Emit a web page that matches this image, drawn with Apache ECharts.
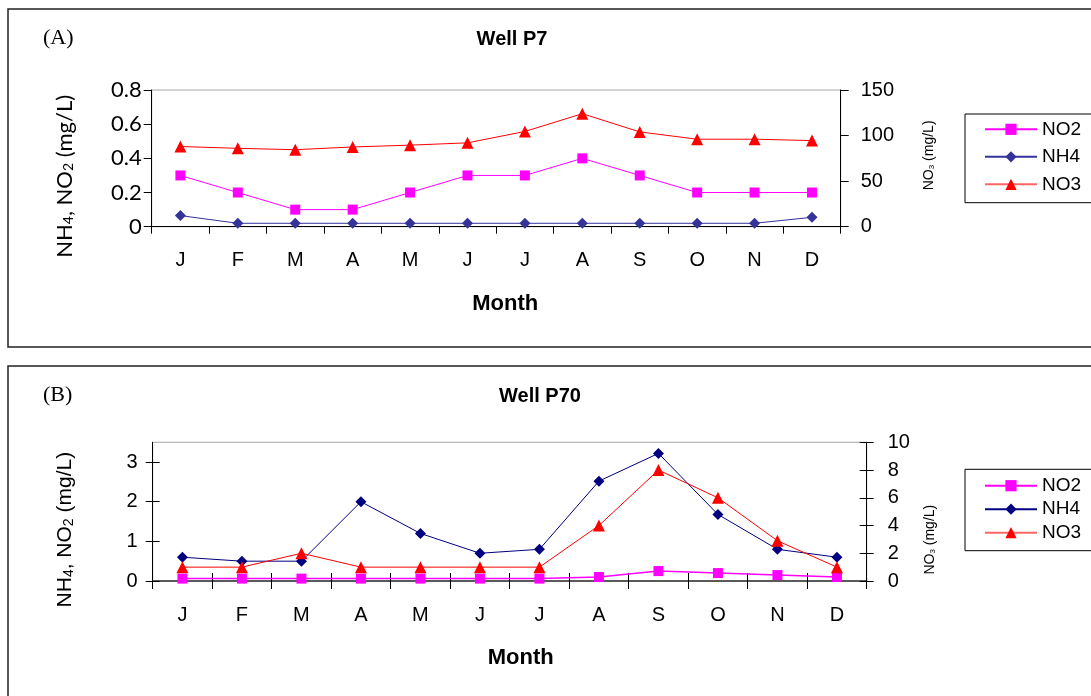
<!DOCTYPE html>
<html>
<head>
<meta charset="utf-8">
<script src="https://cdn.jsdelivr.net/npm/echarts@6/dist/echarts.min.js"></script>
<style>
html,body{margin:0;padding:0;background:#fff;}
#chart{width:1091px;height:696px;}
</style>
</head>
<body>
<div id="chart"></div>
<script>
// ---- data ----
const months = ['J','F','M','A','M','J','J','A','S','O','N','D'];
const seriesNames = ['NO2','NH4','NO3'];
// Well P7
const p7NO2 = [0.3,0.2,0.1,0.1,0.2,0.3,0.3,0.4,0.3,0.2,0.2,0.2];
const p7NH4 = [0.065,0.02,0.02,0.02,0.02,0.02,0.02,0.02,0.02,0.02,0.02,0.055];
const p7NO3 = [88,86,84.5,87.5,89.5,92,104.5,124,104,96,96,94.5];
// Well P70
const p70NO2 = [0.06,0.06,0.06,0.06,0.06,0.06,0.06,0.1,0.25,0.2,0.15,0.1];
const p70NH4 = [0.6,0.5,0.5,2.0,1.2,0.7,0.8,2.52,3.22,1.68,0.8,0.6];
const p70NO3 = [1,1,2,1,1,1,1,4,8,6,2.9,1];
// tick values
const p70LeftTicks = [0,1,2,3];

const AR = 'Liberation Sans, Arial, sans-serif';
const CAL = 'Lato, Open Sans, sans-serif';
const chart = echarts.init(document.getElementById('chart'));

function leftName(fs, ss, fam){
  return {
    name: '{a|NH}{s|4}{a|, NO}{s|2}{a| (mg/L)}',
    nameTextStyle: {
      padding: [0, 36, 0, 0],
      rich: {
        a: {fontSize: fs, fontFamily: fam, color: '#000', lineHeight: fs + 6, verticalAlign: 'bottom'},
        s: {fontSize: ss, fontFamily: fam, color: '#000', lineHeight: ss, verticalAlign: 'bottom'}
      }
    }
  };
}
function rightName(pad){
  return {
    name: '{a|NO}{s|3}{a| (mg/L)}',
    nameTextStyle: {
      padding: pad,
      rich: {
        a: {fontSize: 14, fontFamily: AR, color: '#000', lineHeight: 18, verticalAlign: 'bottom'},
        s: {fontSize: 8, fontFamily: AR, color: '#000', lineHeight: 8, verticalAlign: 'bottom'}
      }
    }
  };
}

const axisLineBlack = {show: true, lineStyle: {color: '#000', width: 1}};
const LFS = 19;

const option = {
  animation: false,
  backgroundColor: '#fff',
  graphic: [
    {type: 'rect', shape: {x: 8, y: 9, width: 1100, height: 338}, style: {fill: 'none', stroke: '#222', lineWidth: 1.5}, silent: true},
    {type: 'rect', shape: {x: 8, y: 366, width: 1100, height: 340}, style: {fill: 'none', stroke: '#222', lineWidth: 1.5}, silent: true}
  ],
  title: [
    {text: 'Well P7', left: 507, top: 24, textAlign: 'center', textStyle: {fontFamily: AR, fontWeight: 'bold', fontSize: 20, color: '#000'}},
    {text: 'Well P70', left: 535, top: 381, textAlign: 'center', textStyle: {fontFamily: AR, fontWeight: 'bold', fontSize: 20, color: '#000'}},
    {text: '(A)', left: 38, top: 22, textStyle: {fontFamily: 'Liberation Serif, Times New Roman, serif', fontWeight: 'normal', fontSize: 22, color: '#000'}},
    {text: '(B)', left: 38, top: 379, textStyle: {fontFamily: 'Liberation Serif, Times New Roman, serif', fontWeight: 'normal', fontSize: 22, color: '#000'}}
  ],
  legend: [
    {
      left: 965, top: 114, orient: 'vertical', itemWidth: 52, itemHeight: 14, itemGap: 27.5 - LFS,
      padding: [5.8, 40, 8.9, 19], borderColor: '#000', borderWidth: 1, selectedMode: false,
      textStyle: {fontFamily: AR, fontSize: LFS, color: '#000'},
      data: [
        {name: 'NO2', itemStyle: {color: '#FF00FF'}, lineStyle: {color: '#FF00FF'}},
        {name: 'NH4', itemStyle: {color: '#333399'}, lineStyle: {color: '#333399'}},
        {name: 'NO3', itemStyle: {color: '#FF0000'}, lineStyle: {color: '#FF6666'}}
      ]
    },
    {
      left: 965, top: 469.3, orient: 'vertical', itemWidth: 52, itemHeight: 14, itemGap: 23.5 - LFS,
      padding: [6.9, 40, 8.5, 19], borderColor: '#000', borderWidth: 1, selectedMode: false,
      textStyle: {fontFamily: AR, fontSize: LFS, color: '#000'},
      data: [
        {name: 'NO2', itemStyle: {color: '#FF00FF'}, lineStyle: {color: '#FF00FF'}},
        {name: 'NH4', itemStyle: {color: '#000080'}, lineStyle: {color: '#000080'}},
        {name: 'NO3', itemStyle: {color: '#FF0000'}, lineStyle: {color: '#FF6666'}}
      ]
    }
  ],
  grid: [
    {left: 151.7, right: 250.3, top: 90, height: 136.7, show: true, borderColor: '#a6a6a6', borderWidth: 1, backgroundColor: 'transparent'},
    {left: 152.7, right: 224.3, top: 442.3, height: 138.7, show: true, borderColor: '#a6a6a6', borderWidth: 1, backgroundColor: 'transparent'}
  ],
  xAxis: [
    {
      type: 'category', gridIndex: 0, data: months, position: 'bottom', boundaryGap: true,
      axisLine: axisLineBlack, axisTick: {show: true, length: 7, lineStyle: {color: '#000'}},
      axisLabel: {fontFamily: AR, fontSize: 20, color: '#000', margin: 24, interval: 0},
      splitLine: {show: false},
      name: 'Month', nameLocation: 'middle', nameGap: 66,
      nameTextStyle: {fontFamily: AR, fontSize: 22, fontWeight: 'bold', color: '#000', padding: [0, 0, 0, 18]}
    },
    {
      type: 'category', gridIndex: 1, data: months, position: 'bottom', boundaryGap: true,
      axisLine: {show: true, lineStyle: {color: '#333', width: 1.5}}, axisTick: {show: true, length: 8, lineStyle: {color: '#000'}},
      axisLabel: {fontFamily: AR, fontSize: 20, color: '#000', margin: 24, interval: 0},
      splitLine: {show: false},
      name: 'Month', nameLocation: 'middle', nameGap: 66,
      nameTextStyle: {fontFamily: AR, fontSize: 22, fontWeight: 'bold', color: '#000', padding: [0, 0, 0, 22]}
    },
    {
      type: 'category', gridIndex: 1, data: months, position: 'bottom', boundaryGap: true,
      axisLine: {show: false}, axisTick: {show: true, inside: true, length: 8, lineStyle: {color: '#000'}},
      axisLabel: {show: false}, splitLine: {show: false}
    }
  ],
  yAxis: [
    Object.assign({
      type: 'value', gridIndex: 0, position: 'left', min: 0, max: 0.8, interval: 0.2,
      axisLine: axisLineBlack, axisTick: {show: true, length: 8, lineStyle: {color: '#000'}},
      axisLabel: {fontFamily: CAL, fontSize: 22, color: '#000', margin: 10},
      splitLine: {show: false}, nameLocation: 'middle', nameGap: 76, nameRotate: 90
    }, leftName(22, 14, CAL)),
    Object.assign({
      type: 'value', gridIndex: 0, position: 'right', min: 0, max: 150, interval: 50,
      axisLine: axisLineBlack, axisTick: {show: true, length: 8, lineStyle: {color: '#000'}},
      axisLabel: {fontFamily: AR, fontSize: 20, color: '#000', margin: 20},
      splitLine: {show: false}, nameLocation: 'middle', nameGap: 77, nameRotate: 90
    }, rightName([0, 0, 0, 6])),
    Object.assign({
      type: 'value', gridIndex: 1, position: 'left', min: 0, max: 3.5, interval: 1,
      axisLine: axisLineBlack, axisTick: {show: true, length: 7, customValues: p70LeftTicks, lineStyle: {color: '#000'}},
      axisLabel: {fontFamily: AR, fontSize: 20, color: '#000', margin: 15, customValues: p70LeftTicks},
      splitLine: {show: false}, nameLocation: 'middle', nameGap: 77, nameRotate: 90
    }, leftName(21, 14, AR)),
    Object.assign({
      type: 'value', gridIndex: 1, position: 'right', min: 0, max: 10, interval: 2,
      axisLine: axisLineBlack, axisTick: {show: true, length: 7, lineStyle: {color: '#000'}},
      axisLabel: {fontFamily: AR, fontSize: 20, color: '#000', margin: 21},
      splitLine: {show: false}, nameLocation: 'middle', nameGap: 52, nameRotate: 90
    }, rightName([0, 56, 0, 0])),
    {
      type: 'value', gridIndex: 1, position: 'left', min: 0, max: 3.5, interval: 1,
      axisLine: {show: false}, axisTick: {show: true, inside: true, length: 7, customValues: p70LeftTicks, lineStyle: {color: '#000'}},
      axisLabel: {show: false}, splitLine: {show: false}
    },
    {
      type: 'value', gridIndex: 1, position: 'right', min: 0, max: 10, interval: 2,
      axisLine: {show: false}, axisTick: {show: true, inside: true, length: 7, lineStyle: {color: '#000'}},
      axisLabel: {show: false}, splitLine: {show: false}
    }
  ],
  series: [
    {name: 'NO2', type: 'line', xAxisIndex: 0, yAxisIndex: 0, data: p7NO2, symbol: 'rect', symbolSize: 10,
      itemStyle: {color: '#FF00FF'}, lineStyle: {color: '#FF00FF', width: 1}},
    {name: 'NH4', type: 'line', xAxisIndex: 0, yAxisIndex: 0, data: p7NH4, symbol: 'diamond', symbolSize: 11,
      itemStyle: {color: '#333399'}, lineStyle: {color: '#333399', width: 1}},
    {name: 'NO3', type: 'line', xAxisIndex: 0, yAxisIndex: 1, data: p7NO3, symbol: 'triangle', symbolSize: 12,
      itemStyle: {color: '#FF0000'}, lineStyle: {color: '#FF0000', width: 1}},
    {name: 'NO2', type: 'line', xAxisIndex: 1, yAxisIndex: 2, data: p70NO2, symbol: 'rect', symbolSize: 10,
      itemStyle: {color: '#FF00FF'}, lineStyle: {color: '#FF00FF', width: 1.5}},
    {name: 'NH4', type: 'line', xAxisIndex: 1, yAxisIndex: 2, data: p70NH4, symbol: 'diamond', symbolSize: 11,
      itemStyle: {color: '#000080'}, lineStyle: {color: '#000080', width: 1}},
    {name: 'NO3', type: 'line', xAxisIndex: 1, yAxisIndex: 3, data: p70NO3, symbol: 'triangle', symbolSize: 12,
      itemStyle: {color: '#FF0000'}, lineStyle: {color: '#FF0000', width: 1}}
  ]
};
chart.setOption(option);
</script>
</body>
</html>
